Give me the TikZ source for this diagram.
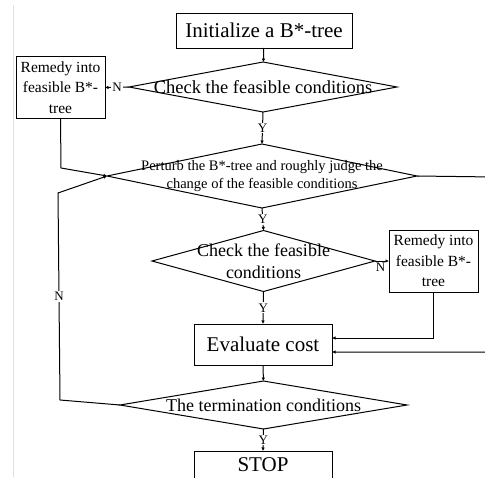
\documentclass[tikz,border=0pt]{standalone}
\usepackage{fontspec}
\setmainfont{Liberation Serif}
\usetikzlibrary{arrows.meta, shapes.geometric, positioning, calc}

\begin{document}
\begin{tikzpicture}[x=1pt, y=-1pt, line width=1pt,
    box/.style={draw, rectangle, inner sep=0pt, outer sep=0pt, align=center},
    dia/.style={draw, diamond, inner sep=0pt, outer sep=0pt},
    txt/.style={align=center, inner sep=0pt},
    remedy/.style={box, minimum width=89pt, minimum height=62pt, font=\fontsize{15.5}{20.5}\selectfont},
    yn/.style={fill=white, inner sep=1pt, font=\fontsize{13}{13}\selectfont},
    arr/.style={-{Latex[length=3.5pt, width=3.5pt]}}]
        \clip (0, 0) rectangle (485, 477);
        \fill[white] (0, 0) rectangle (485, 477);
        \draw[black!12, line width=0.6pt] (13, 5) -- (13, 477);

        \node[box, minimum width=176pt, minimum height=35pt, font=\fontsize{21}{24}\selectfont] (init) at (264, 30.5) {Initialize a B*-tree};
        \node[dia, minimum width=268pt, minimum height=50pt, label={[txt, font=\fontsize{18.5}{20}\selectfont]center:Check the feasible conditions}] (chk1) at (263, 87) {};
        \node[remedy] (rem1) at (60.5, 87.5) {Remedy into\\feasible B*-\\tree};
        \node[dia, minimum width=310pt, minimum height=64pt, label={[txt, font=\fontsize{14.5}{18}\selectfont]center:Perturb the B*-tree and roughly judge the\\change of the feasible conditions}] (chk2) at (262, 176) {};
        \node[dia, minimum width=223pt, minimum height=61pt, label={[txt, font=\fontsize{18}{22.5}\selectfont]center:Check the feasible\\conditions}] (chk3) at (263.5, 261) {};
        \node[remedy] (rem2) at (433.5, 261) {Remedy into\\feasible B*-\\tree};
        \node[box, minimum width=138pt, minimum height=41pt, font=\fontsize{21}{24}\selectfont] (eval) at (263, 344.5) {Evaluate cost};
        \node[dia, minimum width=287pt, minimum height=48pt, label={[txt, font=\fontsize{18}{20}\selectfont]center:The termination conditions}] (term) at (263.5, 405) {};
        \node[box, minimum width=138pt, minimum height=28pt, font=\fontsize{21}{24}\selectfont] (stop) at (263, 465) {STOP};

        \coordinate (lp) at (58, 193);
        \coordinate (rt) at (495, 177);

        \draw[arr] (init) -- (chk1);
        \draw[arr] (chk1.west) -- node[yn] {N} (rem1.east);
        \draw[arr] (chk1.south) -- node[yn] {Y} (chk2.north);
        \draw[arr] (rem1.south) -- (61, 168) -- (chk2.west);
        \draw[arr] (chk2.south) -- node[yn] {Y} (chk3.north);
        \draw[arr] (chk3.east) -- node[yn, fill=none, below, pos=0.4] {N} (rem2.west);
        \draw[arr] (chk3.south) -- node[yn] {Y} (eval.north);
        \draw[arr] (rem2.south) |- ([yshift=6.5pt]eval.east);
        \draw[arr] (chk2.east) -- (rt) |- ([yshift=-7.5pt]eval.east);
        \draw[arr] (eval) -- (term);
        \draw[arr] (term.south) -- node[yn] {Y} (stop.north);
        \draw[arr] (term.west) -- (60, 400) -- node[yn] {N} (lp) -- (chk2.west);
\end{tikzpicture}
\end{document}
